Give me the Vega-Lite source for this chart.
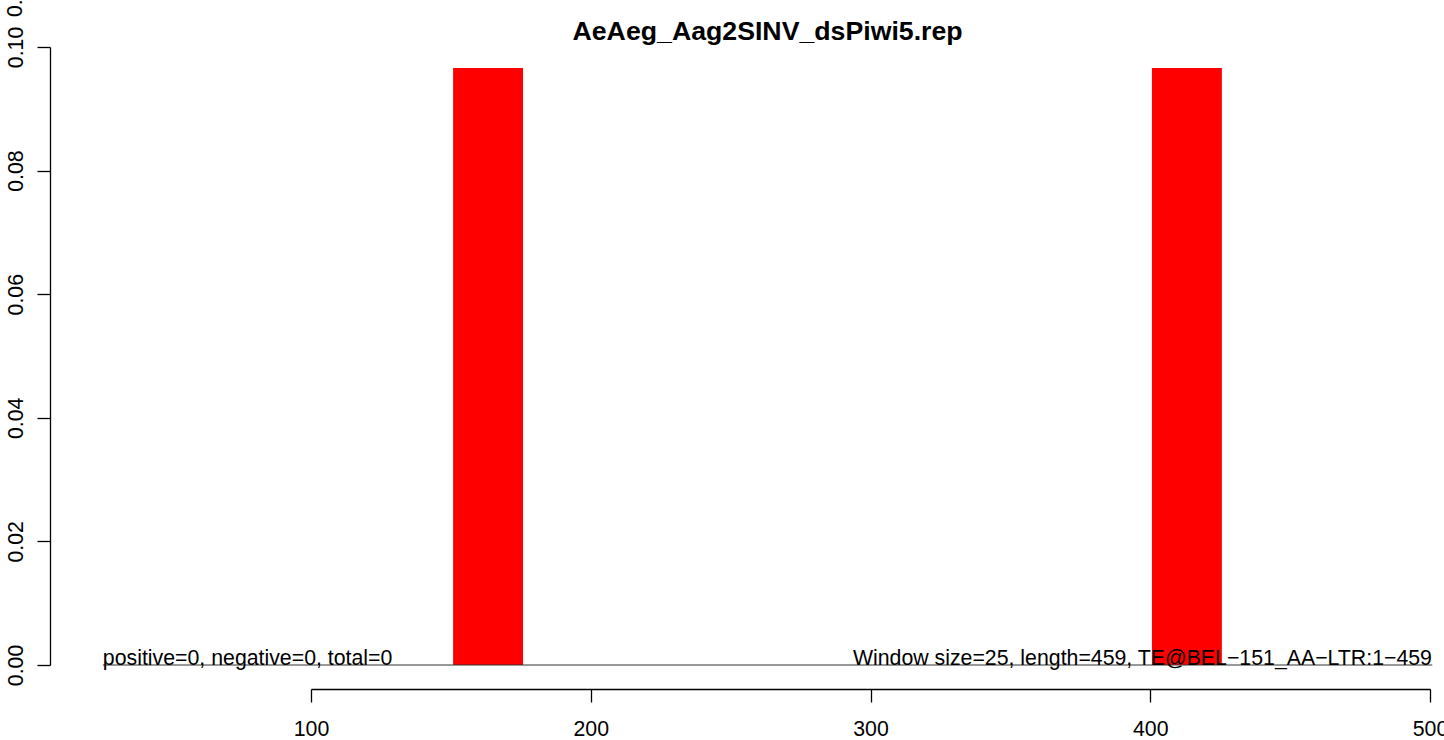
{
  "$schema": "https://vega.github.io/schema/vega-lite/v6.json",
  "width": 1119,
  "height": 618,
  "autosize": {"type": "none"},
  "padding": {"left": 311, "top": 47, "right": 14, "bottom": 75},
  "background": "white",
  "config": {"view": {"stroke": null}, "font": "Liberation Sans"},
  "datasets": {
    "bars": [
      {"start": 150.8, "end": 175.8, "value": 0.0966},
      {"start": 400.6, "end": 425.6, "value": 0.0966}
    ],
    "baseline": [{"x": 25.6, "x2": 500.8, "y": 0}],
    "leftnote": [{"x": 25.6, "y": 0, "label": "positive=0, negative=0, total=0"}],
    "rightnote": [{"x": 500.7, "y": 0, "label": "Window size=25, length=459, TE@BEL\u2212151_AA\u2212LTR:1\u2212459"}],
    "titletext": [{"x": 263.2, "y": 0.1012, "label": "AeAeg_Aag2SINV_dsPiwi5.rep"}],
    "stray": [{"x": -3.3, "y": 0.1082, "label": "0.12"}]
  },
  "layer": [
    {
      "data": {"name": "bars"},
      "mark": {"type": "rect", "color": "#FF0000"},
      "encoding": {
        "x": {
          "field": "start", "type": "quantitative",
          "scale": {"domain": [100, 500], "nice": false, "zero": false},
          "axis": {
            "title": null, "values": [100, 200, 300, 400, 500], "format": "d",
            "offset": 24, "grid": false,
            "domainColor": "black", "domainWidth": 1.3,
            "tickColor": "black", "tickSize": 13, "tickWidth": 1.3,
            "labelFont": "Liberation Sans", "labelFontSize": 21.3, "labelColor": "black",
            "labelBaseline": "alphabetic", "labelPadding": 33, "labelFlush": false, "labelOverlap": false
          }
        },
        "x2": {"field": "end"},
        "y": {
          "field": "value", "type": "quantitative",
          "scale": {"domain": [0, 0.1], "nice": false},
          "axis": {
            "title": null, "values": [0, 0.02, 0.04, 0.06, 0.08, 0.1], "format": ".2f",
            "offset": 261, "grid": false,
            "domainColor": "black", "domainWidth": 1.3,
            "tickColor": "black", "tickSize": 13, "tickWidth": 1.3,
            "labelFont": "Liberation Sans", "labelFontSize": 21.3, "labelColor": "black",
            "labelAngle": -90, "labelAlign": "center", "labelBaseline": "alphabetic",
            "labelPadding": 15, "labelFlush": false, "labelOverlap": false
          }
        },
        "y2": {"datum": 0}
      }
    },
    {
      "data": {"name": "baseline"},
      "mark": {"type": "rule", "color": "#333333", "strokeWidth": 1},
      "encoding": {
        "x": {"field": "x", "type": "quantitative", "title": null},
        "x2": {"field": "x2"},
        "y": {"field": "y", "type": "quantitative", "title": null}
      }
    },
    {
      "data": {"name": "leftnote"},
      "mark": {"type": "text", "align": "left", "baseline": "alphabetic", "fontSize": 21.3, "font": "Liberation Sans", "color": "black"},
      "encoding": {
        "x": {"field": "x", "type": "quantitative", "title": null},
        "y": {"field": "y", "type": "quantitative", "title": null},
        "text": {"field": "label"}
      }
    },
    {
      "data": {"name": "rightnote"},
      "mark": {"type": "text", "align": "right", "baseline": "alphabetic", "fontSize": 21.3, "font": "Liberation Sans", "color": "black"},
      "encoding": {
        "x": {"field": "x", "type": "quantitative", "title": null},
        "y": {"field": "y", "type": "quantitative", "title": null},
        "text": {"field": "label"}
      }
    },
    {
      "data": {"name": "titletext"},
      "mark": {"type": "text", "align": "center", "baseline": "alphabetic", "fontSize": 26.7, "fontWeight": "bold", "font": "Liberation Sans", "color": "black"},
      "encoding": {
        "x": {"field": "x", "type": "quantitative", "title": null},
        "y": {"field": "y", "type": "quantitative", "title": null},
        "text": {"field": "label"}
      }
    },
    {
      "data": {"name": "stray"},
      "mark": {"type": "text", "align": "center", "baseline": "alphabetic", "angle": 270, "fontSize": 21.3, "font": "Liberation Sans", "color": "black"},
      "encoding": {
        "x": {"field": "x", "type": "quantitative", "title": null},
        "y": {"field": "y", "type": "quantitative", "title": null},
        "text": {"field": "label"}
      }
    }
  ]
}
